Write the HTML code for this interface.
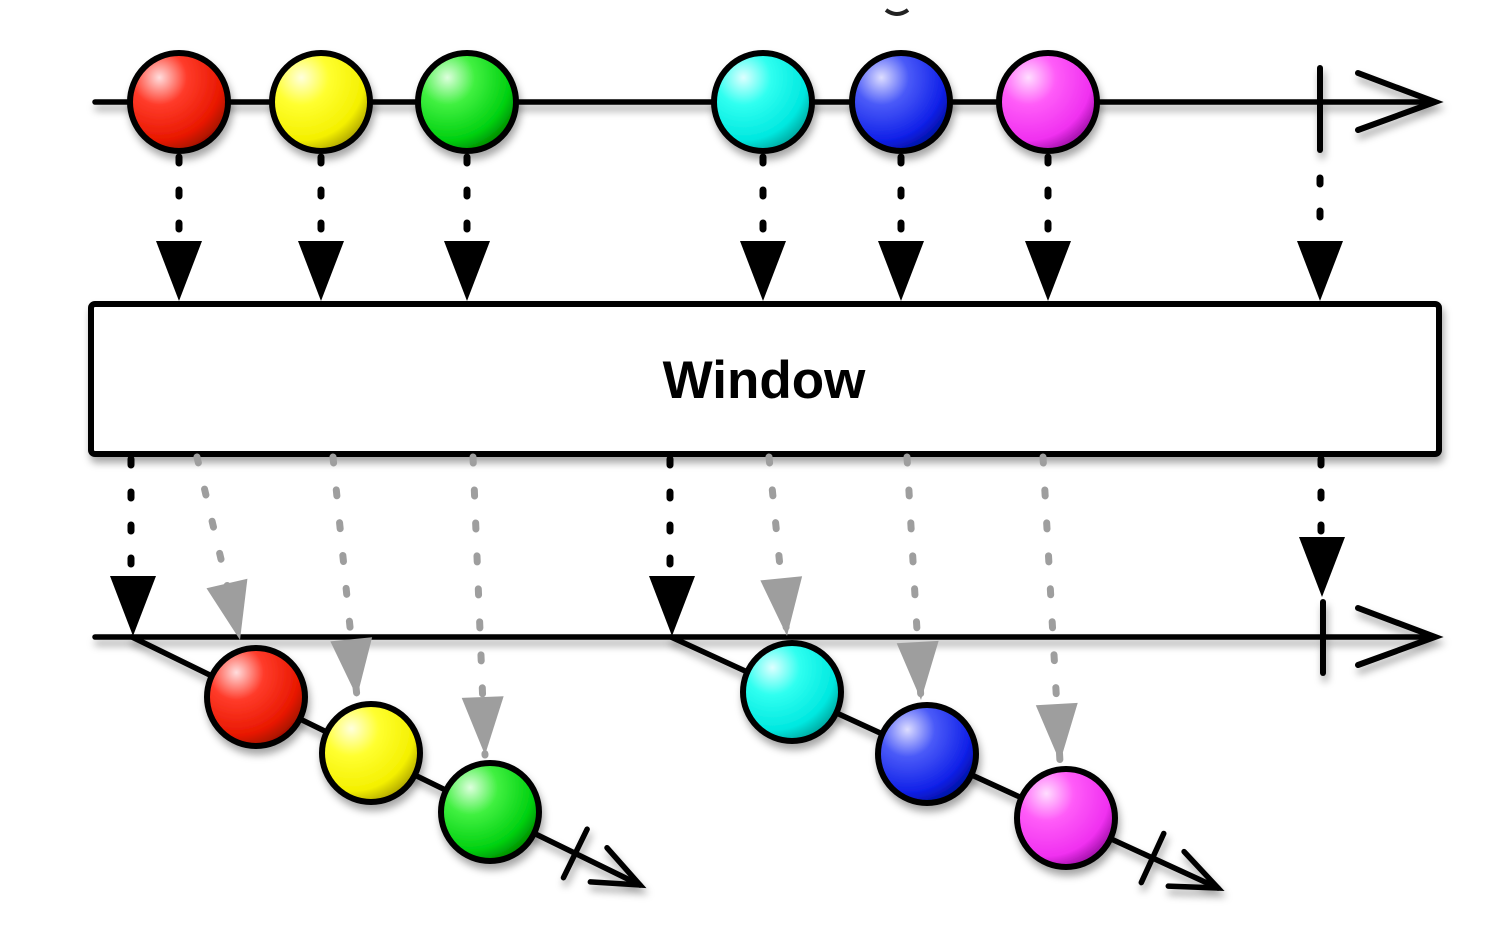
<!DOCTYPE html>
<html><head><meta charset="utf-8"><style>
html,body{margin:0;padding:0;background:#fff;}
svg{display:block;}
</style></head><body>
<svg width="1504" height="930" viewBox="0 0 1504 930" xmlns="http://www.w3.org/2000/svg">
<defs>
<filter id="sh" x="-20%" y="-20%" width="140%" height="160%"><feDropShadow dx="2" dy="6" stdDeviation="4" flood-color="#000" flood-opacity="0.35"/></filter>
<radialGradient id="gr" cx="0.3" cy="0.25" r="0.8"><stop offset="0" stop-color="#fdd"/><stop offset="0.35" stop-color="#ff3b2a"/><stop offset="0.8" stop-color="#e81800"/><stop offset="1" stop-color="#a01000"/></radialGradient>
<radialGradient id="gy" cx="0.3" cy="0.25" r="0.8"><stop offset="0" stop-color="#ffd"/><stop offset="0.35" stop-color="#ffff30"/><stop offset="0.8" stop-color="#f4f000"/><stop offset="1" stop-color="#b0a800"/></radialGradient>
<radialGradient id="gg" cx="0.3" cy="0.25" r="0.8"><stop offset="0" stop-color="#dfd"/><stop offset="0.35" stop-color="#40f040"/><stop offset="0.8" stop-color="#00d010"/><stop offset="1" stop-color="#008a00"/></radialGradient>
<radialGradient id="gc" cx="0.3" cy="0.25" r="0.8"><stop offset="0" stop-color="#dff"/><stop offset="0.35" stop-color="#30fff0"/><stop offset="0.8" stop-color="#00e8e0"/><stop offset="1" stop-color="#00a8a0"/></radialGradient>
<radialGradient id="gb" cx="0.3" cy="0.25" r="0.8"><stop offset="0" stop-color="#ddf"/><stop offset="0.35" stop-color="#4a5af8"/><stop offset="0.8" stop-color="#1020e8"/><stop offset="1" stop-color="#0010a0"/></radialGradient>
<radialGradient id="gm" cx="0.3" cy="0.25" r="0.8"><stop offset="0" stop-color="#fdf"/><stop offset="0.35" stop-color="#ff5cf8"/><stop offset="0.8" stop-color="#f030f0"/><stop offset="1" stop-color="#a010a8"/></radialGradient>
</defs>

<path d="M886 10 Q897 18 908 10" stroke="#222" stroke-width="4" fill="none"/>

<g filter="url(#sh)" stroke="#000" stroke-linecap="round" fill="none">
<line x1="95" y1="102" x2="1433" y2="102" stroke-width="5.5"/>
<polyline points="1358,73 1435,102 1358,130" stroke-width="6"/>
<line x1="1320" y1="68" x2="1320" y2="150" stroke-width="6"/>
</g>
<g stroke="#000" stroke-width="6">
<circle cx="179" cy="102" r="49" fill="url(#gr)" filter="url(#sh)"/>
<circle cx="321" cy="102" r="49" fill="url(#gy)" filter="url(#sh)"/>
<circle cx="467" cy="102" r="49" fill="url(#gg)" filter="url(#sh)"/>
<circle cx="763" cy="102" r="49" fill="url(#gc)" filter="url(#sh)"/>
<circle cx="901" cy="102" r="49" fill="url(#gb)" filter="url(#sh)"/>
<circle cx="1048" cy="102" r="49" fill="url(#gm)" filter="url(#sh)"/>
</g>

<g stroke="#000" stroke-width="7" stroke-linecap="round" stroke-dasharray="6 27">
<line x1="179" y1="157" x2="179" y2="240"/>
<line x1="321" y1="157" x2="321" y2="240"/>
<line x1="467" y1="157" x2="467" y2="240"/>
<line x1="763" y1="157" x2="763" y2="240"/>
<line x1="901" y1="157" x2="901" y2="240"/>
<line x1="1048" y1="157" x2="1048" y2="240"/>
<line x1="1320" y1="178" x2="1320" y2="240"/>
</g>
<g fill="#000">
<polygon points="156,241 202,241 179,301"/>
<polygon points="298,241 344,241 321,301"/>
<polygon points="444,241 490,241 467,301"/>
<polygon points="740,241 786,241 763,301"/>
<polygon points="878,241 924,241 901,301"/>
<polygon points="1025,241 1071,241 1048,301"/>
<polygon points="1297,241 1343,241 1320,301"/>
</g>

<rect x="91" y="304" width="1348" height="150" rx="4" fill="#fff" stroke="#000" stroke-width="6" filter="url(#sh)"/>
<text x="764" y="398" text-anchor="middle" font-family="Liberation Sans, Arial, sans-serif" font-weight="bold" font-size="53" fill="#000">Window</text>

<g filter="url(#sh)" stroke="#000" stroke-linecap="round" fill="none">
<line x1="95" y1="637" x2="1433" y2="637" stroke-width="5.5"/>
<polyline points="1358,608 1435,637 1358,665" stroke-width="6"/>
<line x1="1323" y1="602" x2="1323" y2="673" stroke-width="6"/>
</g>

<g stroke="#000" stroke-width="7" stroke-linecap="round" stroke-dasharray="6 27">
<line x1="131" y1="459" x2="131" y2="575"/>
<line x1="670" y1="459" x2="670" y2="575"/>
<line x1="1321" y1="459" x2="1321" y2="537"/>
</g>
<g fill="#000">
<polygon points="110,576 156,576 133,636"/>
<polygon points="649,576 695,576 672,636"/>
<polygon points="1299,537 1345,537 1322,597"/>
</g>

<g stroke="#9e9e9e" stroke-width="7" stroke-linecap="round" stroke-dasharray="6 27">
<line x1="197" y1="457" x2="240" y2="640"/>
<line x1="333" y1="457" x2="357" y2="697"/>
<line x1="473" y1="457" x2="485" y2="755"/>
<line x1="769" y1="457" x2="787" y2="636"/>
<line x1="907" y1="457" x2="921" y2="700"/>
<line x1="1043" y1="457" x2="1060" y2="762"/>
</g>
<g fill="#9e9e9e">
<polygon points="-21,-58 21,-58 0,0" transform="translate(240,640) rotate(-13)"/>
<polygon points="-21,-58 21,-58 0,0" transform="translate(357,697) rotate(-5.7)"/>
<polygon points="-21,-58 21,-58 0,0" transform="translate(485,755) rotate(-2.3)"/>
<polygon points="-21,-58 21,-58 0,0" transform="translate(787,636) rotate(-5.7)"/>
<polygon points="-21,-58 21,-58 0,0" transform="translate(921,700) rotate(-3.3)"/>
<polygon points="-21,-58 21,-58 0,0" transform="translate(1060,762) rotate(-3.2)"/>
</g>

<g filter="url(#sh)" stroke="#000" stroke-linecap="round" fill="none" stroke-width="5.5">
<line x1="132" y1="637" x2="640" y2="885"/>
<g transform="translate(640,885) rotate(26)">
<polyline points="-46,-19 0,0 -46,19"/>
<line x1="-72" y1="-27" x2="-72" y2="27"/>
</g>
<line x1="671" y1="637" x2="1218" y2="888"/>
<g transform="translate(1218,888) rotate(24.6)">
<polyline points="-46,-19 0,0 -46,19"/>
<line x1="-72" y1="-27" x2="-72" y2="27"/>
</g>
</g>
<g stroke="#000" stroke-width="6">
<circle cx="256" cy="697" r="49" fill="url(#gr)" filter="url(#sh)"/>
<circle cx="371" cy="753" r="49" fill="url(#gy)" filter="url(#sh)"/>
<circle cx="490" cy="812" r="49" fill="url(#gg)" filter="url(#sh)"/>
<circle cx="792" cy="692" r="49" fill="url(#gc)" filter="url(#sh)"/>
<circle cx="927" cy="754" r="49" fill="url(#gb)" filter="url(#sh)"/>
<circle cx="1066" cy="818" r="49" fill="url(#gm)" filter="url(#sh)"/>
</g>
</svg>
</body></html>
